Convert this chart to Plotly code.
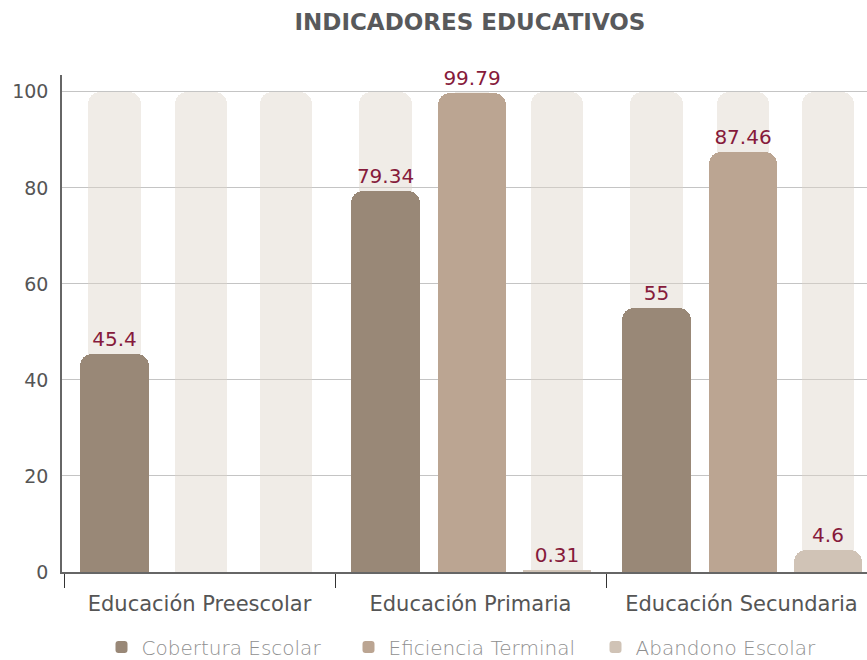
import plotly.graph_objects as go

categories = ["Educación Preescolar", "Educación Primaria", "Educación Secundaria"]
series_names = ["Cobertura Escolar", "Eficiencia Terminal", "Abandono Escolar"]
cobertura = [45.4, 79.34, 55]
eficiencia = [None, 99.79, 87.46]
abandono = [None, 0.31, 4.6]
track_max = [100, 100, 100]
y_ticks = [0, 20, 40, 60, 80, 100]

series_values = [cobertura, eficiencia, abandono]
colors = ["#998877", "#bba592", "#d0c3b6"]
label_color = "#861a3b"
font_family = "DejaVu Sans, Open Sans, sans-serif"

# slot geometry in category units
slot_centers = [-0.3137, 0.004, 0.3177]
data_width = 0.251
track_width = 0.192

fig = go.Figure()

# background tracks on the base axis (translucent so gridlines show through)
for c in slot_centers:
    fig.add_trace(go.Bar(
        x=categories, y=track_max,
        width=track_width, offset=c - track_width / 2,
        marker=dict(color="rgba(222,212,202,0.45)", line=dict(width=0), cornerradius=12),
        showlegend=False, hoverinfo="skip",
    ))

# data bars on an overlaying axis (drawn on top)
for name, vals, col, c in zip(series_names, series_values, colors, slot_centers):
    fig.add_trace(go.Bar(
        x=categories, y=vals, name=name, xaxis="x2",
        width=data_width, offset=c - data_width / 2,
        marker=dict(color=col, line=dict(width=0), cornerradius=12),
        text=[("" if v is None else f"{v:g}") for v in vals],
        textposition="outside",
        textfont=dict(color=label_color, size=20, family=font_family),
        cliponaxis=False,
    ))

fig.update_layout(
    width=867, height=660,
    barmode="overlay",
    plot_bgcolor="white", paper_bgcolor="white",
    margin=dict(l=62, r=0, t=75, b=88),
    font=dict(family=font_family, color="#555555"),
    title=dict(
        text="<b>INDICADORES EDUCATIVOS</b>",
        x=470 / 867, xanchor="center", xref="container",
        y=1 - 22 / 660, yanchor="middle", yref="container",
        font=dict(size=23, color="#58595b", family=font_family),
    ),
    xaxis=dict(
        type="category", range=[-0.5074, 2.4631],
        showline=True, linecolor="#666666", linewidth=1.5,
        ticks="outside", tickson="boundaries", ticklen=14, tickcolor="#333333",
        tickfont=dict(size=21, color="#555555"),
        ticklabelstandoff=12,
        showgrid=False, zeroline=False, automargin=False,
    ),
    xaxis2=dict(
        type="category", overlaying="x", matches="x", visible=False,
        range=[-0.5074, 2.4631],
    ),
    yaxis=dict(
        range=[0, 103.5], tickvals=y_ticks,
        showline=True, linecolor="#666666", linewidth=1.5,
        gridcolor="#c4c4c4", gridwidth=1, zeroline=False,
        tickfont=dict(size=19, color="#555555"),
        ticklabelstandoff=8, automargin=False,
    ),
    legend=dict(
        orientation="h", xref="container", yref="container",
        x=472 / 867, xanchor="center", y=1 - 647 / 660, yanchor="middle",
        font=dict(size=20, color="#8f8f8f", weight=300),
        itemwidth=30, entrywidth=202,
    ),
    bargap=0,
)

fig.write_html("out.html", post_script="document.body.style.margin='0';",
               config={"displayModeBar": False})
